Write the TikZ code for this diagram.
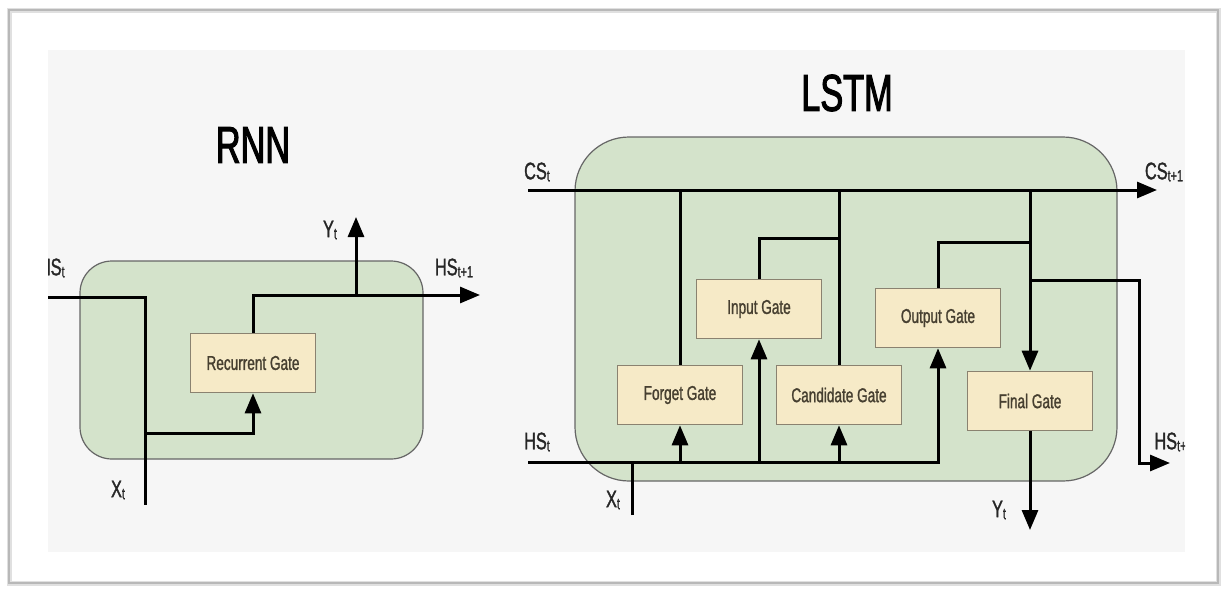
\documentclass[tikz,border=0pt]{standalone}
\usepackage{fontspec}
\setmainfont{Liberation Sans}
\newfontfamily\cond[FakeStretch=0.68,FakeBold=1.2]{Liberation Sans}
\newfontfamily\condtitle[FakeStretch=0.66,FakeBold=2]{Liberation Sans}
\usetikzlibrary{arrows.meta}

\definecolor{cellgreen}{HTML}{D4E3CB}
\definecolor{gatefill}{HTML}{F6EAC7}
\definecolor{gateedge}{HTML}{8A8270}
\definecolor{panel}{HTML}{F6F6F6}
\definecolor{txt}{HTML}{262626}
\definecolor{gatetxt}{HTML}{463F30}

% label with a small lowered subscript
\newcommand\sublbl[2]{#1\raisebox{-1pt}{\fontsize{8}{8}\selectfont #2}}

\begin{document}
\begin{tikzpicture}[x=0.5pt,y=-0.5pt,
  gatebox/.style={draw=gateedge, line width=0.8pt, fill=gatefill,
    minimum width=62.5pt, minimum height=29.5pt, inner sep=0pt,
    font=\cond\fontsize{10}{12}\selectfont, text=gatetxt},
  cell/.style={draw=black!60, line width=0.6pt, fill=cellgreen},
  wire/.style={line width=1.5pt, black},
  flow/.style={wire, -{Triangle[length=10pt,width=8pt]}},
  tag/.style={font=\cond\fontsize{12}{14}\selectfont, text=txt, inner sep=0pt},
  heading/.style={font=\condtitle\fontsize{26}{30}\selectfont, text=black, inner sep=0pt}]

% page and card frame
\fill[white] (0,0) rectangle (1225,590);
\draw[black!12, line width=2.5pt] (9,10) rectangle (1218,583);
\draw[black!28, line width=0.6pt] (9,10) rectangle (1218,583);
\fill[panel] (48,50) rectangle (1185,552);

\begin{scope}
\clip (48,50) rectangle (1185,552);

% ---------------- RNN ----------------
\node[heading] (rnntitle) at (253,145) {RNN};
\draw[cell, rounded corners=16pt] (80,261) rectangle (423,459);
\node[gatebox] (rec) at (253,363) {Recurrent Gate};

\coordinate (hsin) at (40,297);
\coordinate (xin) at (145,505);
\coordinate (rb) at (145,433);
\coordinate (hsout) at (480,295);
\coordinate (yj) at (356,295);
\coordinate (yout) at (356,217);

\draw[wire] (hsin) -| (xin);
\draw[flow] (rb) -| (rec.south);
\draw[flow] (rec.north) |- (hsout);
\draw[flow] (yj) -- (yout);

\node[tag, anchor=east] (rhs) at (65,268) {\sublbl{HS}{t}};
\node[tag] (ry) at (330,230) {\sublbl{Y}{t}};
\node[tag] (rhs1) at (454,268) {\sublbl{HS}{t+1}};
\node[tag] (rx) at (118,490) {\sublbl{X}{t}};

% ---------------- LSTM ----------------
\node[heading] (lstmtitle) at (847,93) {LSTM};
\draw[cell, rounded corners=27pt] (575,137) rectangle (1117,481);

\node[gatebox] (forget) at (680,395) {Forget Gate};
\node[gatebox] (input)  at (759,309) {Input Gate};
\node[gatebox] (cand)   at (839,395) {Candidate Gate};
\node[gatebox] (output) at (938,318) {Output Gate};
\node[gatebox] (final)  at (1030,401) {Final Gate};

\coordinate (csin) at (528,190);
\coordinate (csout) at (1157,190);
\coordinate (hsin2) at (528,462);
\coordinate (xin2) at (632,515);
\coordinate (xj) at (632,462);
\coordinate (ij) at (839,238);
\coordinate (oj) at (1030,242);
\coordinate (hj) at (1030,280);
\coordinate (hsbend) at (1139,463);
\coordinate (hsout2) at (1170,463);
\coordinate (yout2) at (1030,530);

% cell state and hidden state rails
\draw[flow] (csin) -- (csout);
\draw[flow] (hsin2) -| (output.south);
\draw[wire] (xin2) -- (xj);

% gate inputs from the hidden state
\draw[flow] (forget.south |- hsin2) -- (forget.south);
\draw[flow] (input.south |- hsin2) -- (input.south);
\draw[flow] (cand.south |- hsin2) -- (cand.south);

% gate outputs
\draw[wire] (forget.north) -- (forget.north |- csin);
\draw[wire] (cand.north) -- (cand.north |- csin);
\draw[wire] (input.north) |- (ij);
\draw[wire] (output.north) |- (oj);
\draw[flow] (final.north |- csin) -- (final.north);
\draw[flow] (hj) -| (hsbend) -- (hsout2);
\draw[flow] (final.south) -- (yout2);

\node[tag] (lcs) at (537,172) {\sublbl{CS}{t}};
\node[tag] (lcs1) at (1164,172) {\sublbl{CS}{t+1}};
\node[tag] (lhs) at (537,442) {\sublbl{HS}{t}};
\node[tag, anchor=west] (lhs1) at (1154,442) {\sublbl{HS}{t+1}};
\node[tag] (lx) at (613,500) {\sublbl{X}{t}};
\node[tag] (ly) at (999,510) {\sublbl{Y}{t}};
\end{scope}
\end{tikzpicture}
\end{document}
